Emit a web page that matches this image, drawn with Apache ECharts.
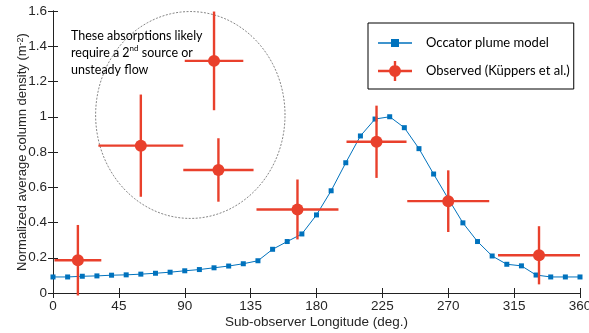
<!DOCTYPE html>
<html>
<head>
<meta charset="utf-8">
<script src="https://cdn.jsdelivr.net/npm/echarts@6/dist/echarts.min.js"></script>
<style>
  html, body { margin: 0; padding: 0; background: #fff; }
  #chart { width: 589px; height: 333px; }
</style>
</head>
<body>
<div id="chart"></div>
<script>
// model curve, sampled every 10 deg
const modelLon = [0, 10, 20, 30, 40, 50, 60, 70, 80, 90, 100, 110, 120, 130, 140, 150, 160, 170, 180,
  190, 200, 210, 220, 230, 240, 250, 260, 270, 280, 290, 300, 310, 320, 330, 340, 350, 360];
const modelVal = [0.091, 0.091, 0.095, 0.097, 0.101, 0.103, 0.107, 0.112, 0.118, 0.126, 0.133, 0.143, 0.153,
  0.166, 0.183, 0.248, 0.292, 0.335, 0.443, 0.580, 0.739, 0.891, 0.987, 1.0, 0.938, 0.819, 0.675, 0.535,
  0.398, 0.292, 0.210, 0.163, 0.154, 0.102, 0.091, 0.091, 0.091];

// observations with error bars
const obsLon = [17, 60, 110, 113, 167, 221, 270, 332];
const obsVal = [0.186, 0.836, 1.317, 0.698, 0.474, 0.858, 0.521, 0.214];
const obsLonErr = [16, 29, 20, 24, 28, 20.5, 28, 28];
const obsValErr = [0.2, 0.29, 0.28, 0.18, 0.17, 0.205, 0.175, 0.165];

// dashed ellipse around the outliers: [cx, cy, rx, ry] in data units
const ellipse = [93.8, 1.01, 64.7, 0.587];

const xTicks = { min: 0, max: 360, interval: 45 };
const yTicks = { min: 0, max: 1.6, interval: 0.2 };

const BLUE = '#0072BD';
const RED = '#E9402C';
const AXIS = '#222';
const MODEL_NAME = 'Occator plume model';
const OBS_NAME = 'Observed (Küppers et al.)';

const chart = echarts.init(document.getElementById('chart'));

const modelData = modelLon.map((x, i) => [x, modelVal[i]]);
const obsData = obsLon.map((x, i) => [x, obsVal[i], obsLonErr[i], obsValErr[i]]);

const axisFont = { fontFamily: 'Liberation Sans', fontSize: 13.5, color: '#262626' };

const option = {
  animation: false,
  grid: { left: 53, right: 9, top: 11, bottom: 40, containLabel: false, outerBoundsMode: 'none' },
  xAxis: [
    {
      type: 'value', position: 'bottom', ...xTicks,
      name: 'Sub-observer Longitude (deg.)', nameLocation: 'middle', nameGap: 22,
      nameMoveOverlap: false,
      nameTextStyle: { ...axisFont },
      axisLine: { show: true, lineStyle: { color: AXIS, width: 1 } },
      axisTick: { show: true, inside: true, length: 5, lineStyle: { color: AXIS } },
      axisLabel: { ...axisFont, margin: 6 },
      splitLine: { show: false }
    },
    {
      type: 'value', position: 'top', ...xTicks,
      axisLine: { show: true, lineStyle: { color: AXIS, width: 1 } },
      axisTick: { show: true, inside: true, length: 5, lineStyle: { color: AXIS } },
      axisLabel: { show: false },
      splitLine: { show: false }
    }
  ],
  yAxis: [
    {
      type: 'value', position: 'left', ...yTicks,
      name: '{a|Normalized average column density (m}{s|-2}{a|)}',
      nameLocation: 'middle', nameGap: 24,
      nameMoveOverlap: false,
      nameTextStyle: {
        rich: {
          a: { ...axisFont, fontSize: 13 },
          s: { ...axisFont, fontSize: 9, verticalAlign: 'top', lineHeight: 12 }
        }
      },
      axisLine: { show: true, lineStyle: { color: AXIS, width: 1 } },
      axisTick: { show: true, inside: true, length: 5, lineStyle: { color: AXIS } },
      axisLabel: { ...axisFont, margin: 6 },
      splitLine: { show: false }
    },
    {
      type: 'value', position: 'right', ...yTicks,
      axisLine: { show: true, lineStyle: { color: AXIS, width: 1 } },
      axisTick: { show: true, inside: true, length: 5, lineStyle: { color: AXIS } },
      axisLabel: { show: false },
      splitLine: { show: false }
    }
  ],
  legend: {
    orient: 'vertical',
    left: 368, top: 23,
    borderColor: '#000', borderWidth: 1,
    padding: [10, 4, 8, 10],
    itemWidth: 34, itemHeight: 20, itemGap: 8,
    itemStyle: { borderWidth: 0 },
    textStyle: { fontFamily: 'Lato', fontSize: 13, color: '#000', padding: [0, 0, 0, 9] },
    data: [
      { name: MODEL_NAME, icon: 'path://M17,0L17,0ZM17,20L17,20ZM0,9.2H34V10.8H0ZM13,6H21V14H13Z' },
      { name: OBS_NAME, icon: 'path://M17,0L17,0ZM0,8.8H34V11.2H0ZM15.8,0H18.2V20H15.8ZM11,10A6,6 0 1 1 23,10A6,6 0 1 1 11,10Z' }
    ]
  },
  graphic: [
    {
      type: 'text', left: 71, top: 27,
      style: {
        text: 'These absorptions likely\nrequire a 2{sup|nd} source or\nunsteady flow',
        fontFamily: 'Lato', fontSize: 12.5, lineHeight: 17, fill: '#000',
        rich: {
          sup: { fontFamily: 'Lato', fontSize: 8, verticalAlign: 'top', lineHeight: 12, fill: '#000' }
        }
      }
    }
  ],
  series: [
    {
      type: 'custom',
      name: 'ellipse',
      silent: true,
      clip: false,
      data: [ellipse],
      renderItem: (params, api) => {
        const cx = api.value(0), cy = api.value(1), rx = api.value(2), ry = api.value(3);
        const pts = [];
        for (let k = 0; k <= 120; k++) {
          const t = (k / 120) * Math.PI * 2;
          pts.push(api.coord([cx + rx * Math.cos(t), cy + ry * Math.sin(t)]));
        }
        return {
          type: 'polyline',
          shape: { points: pts },
          style: { stroke: '#666', lineWidth: 0.8, lineDash: [2, 1.5], fill: null }
        };
      }
    },
    {
      type: 'line',
      name: MODEL_NAME,
      data: modelData,
      symbol: 'rect',
      symbolSize: 5,
      showAllSymbol: true,
      color: BLUE,
      lineStyle: { color: BLUE, width: 1 },
      itemStyle: { color: BLUE },
      z: 3
    },
    {
      type: 'custom',
      name: OBS_NAME,
      clip: false,
      data: obsData,
      encode: { x: 0, y: 1 },
      color: RED,
      renderItem: (params, api) => {
        const x = api.value(0), y = api.value(1), dx = api.value(2), dy = api.value(3);
        const l = api.coord([x - dx, y]);
        const r = api.coord([x + dx, y]);
        const t = api.coord([x, y + dy]);
        const b = api.coord([x, y - dy]);
        const st = { stroke: RED, lineWidth: 2.4 };
        return {
          type: 'group',
          children: [
            { type: 'line', shape: { x1: l[0], y1: l[1], x2: r[0], y2: r[1] }, style: st },
            { type: 'line', shape: { x1: t[0], y1: t[1], x2: b[0], y2: b[1] }, style: st }
          ]
        };
      },
      z: 4
    },
    {
      type: 'scatter',
      name: OBS_NAME,
      data: obsData.map(d => [d[0], d[1]]),
      symbol: 'circle',
      symbolSize: 12,
      color: RED,
      itemStyle: { color: RED, opacity: 1 },
      z: 5
    }
  ]
};

chart.setOption(option);
</script>
</body>
</html>
